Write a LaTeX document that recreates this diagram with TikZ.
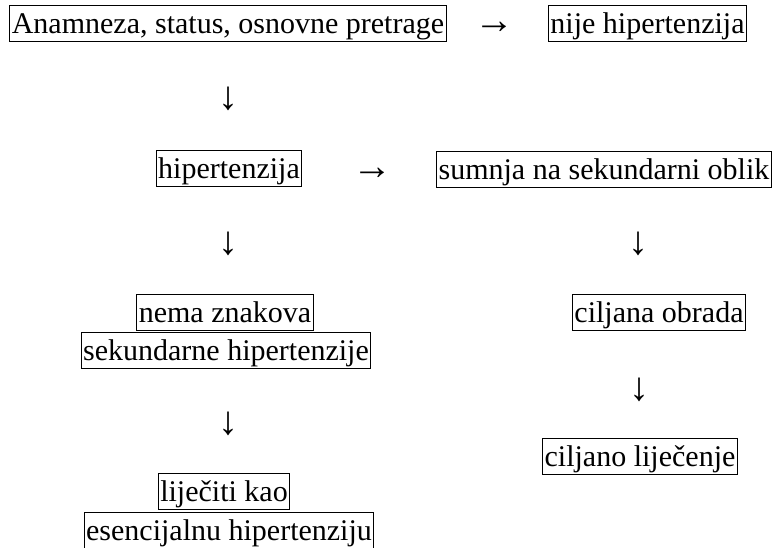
\documentclass[tikz,border=0pt]{standalone}
\usepackage{fontspec}
\setmainfont{Liberation Serif}
\usepackage{tikz}
\usetikzlibrary{positioning}

\begin{document}
\begin{tikzpicture}[x=1pt,y=-1pt]
  \useasboundingbox (0,0) rectangle (774,548);
  \tikzstyle{every node}=[font=\fontsize{30}{36}\selectfont, inner xsep=2pt, inner ysep=1pt, text height=27pt, text depth=7pt]
  \tikzstyle{stepbox}=[draw, line width=1pt]
  \tikzstyle{glyph}=[draw=none, inner sep=0pt, text height=, text depth=, font=\fontsize{40}{48}\selectfont]
  \tikzstyle{glyphbold}=[glyph, font=\fontsize{40}{48}\selectfont\bfseries]

  % Boxes (position, etc.)
  \node[stepbox] (Anamneza) at (228,23.5) {Anamneza, status, osnovne pretrage};
  \node[stepbox] (Nije) at (647.5,23.5) {nije hipertenzija};
  \node[stepbox] (Hiper) at (229,168.5) {hipertenzija};
  \node[stepbox] (Sumnja) at (604,170) {sumnja na sekundarni oblik};
  \node[stepbox] (Nema) at (225,312) {nema znakova};
  \node[stepbox] (Sekund) at (226,350) {sekundarne hipertenzije};
  \node[stepbox] (Obrada) at (659,312) {ciljana obrada};
  \node[stepbox] (Ljecenje) at (640,456) {ciljano liječenje};
  \node[stepbox] (Ljeciti) at (224,491.5) {liječiti kao};
  \node[stepbox] (Esenc) at (229,530) {esencijalnu hipertenziju};

  % Arrow glyphs
  \node[glyphbold] (ArrA) at (494,28) {→};
  \node[glyph] (ArrB) at (228,99) {↓};
  \node[glyphbold] (ArrC) at (372,174) {→};
  \node[glyph] (ArrD) at (228,244) {↓};
  \node[glyph] (ArrE) at (638,244) {↓};
  \node[glyph] (ArrF) at (228,424) {↓};
  \node[glyph] (ArrG) at (639,390) {↓};
\end{tikzpicture}
\end{document}
